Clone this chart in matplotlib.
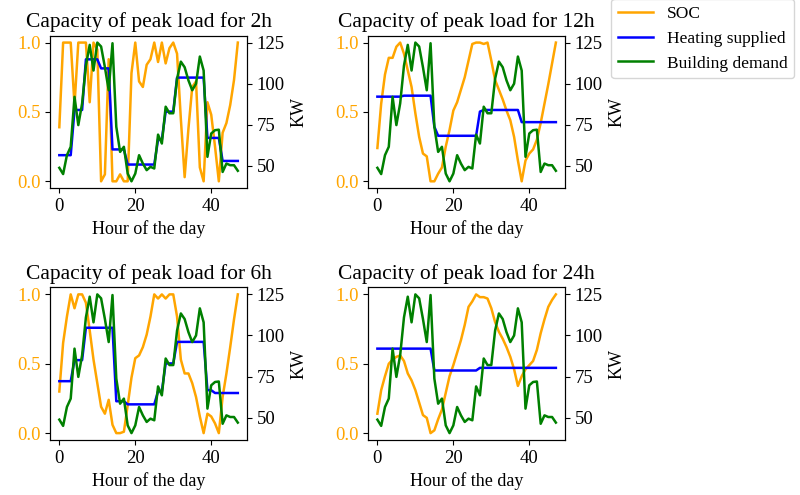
import matplotlib
matplotlib.use("Agg")
import matplotlib.pyplot as plt

plt.rcParams['font.family'] = ['Liberation Serif', 'DejaVu Serif']

hours = list(range(48))

# building demand (KW), same for all cases
demand = [48.8, 45, 56.5, 61.6, 92, 74.8, 88, 111, 123.6, 108,
          125, 122.6, 110, 96, 124.6, 73.8, 58.5, 61.6, 45.3, 40.6,
          45.3, 56.5, 51.4, 47.4, 49.4, 48.4, 69, 63.6, 86, 82,
          82, 103, 113.4, 110, 102, 96, 100, 116.5, 108, 55.5,
          69.7, 71.7, 72, 46.3, 51.4, 50.4, 50.4, 47]

soc_2h = [0.39, 1.0, 1.0, 1.0, 0.55, 1.0, 1.0, 1.0, 0.57, 1.0,
          0.95, 0.0, 0.05, 0.88, 0.0, 0.0, 0.05, 0.0, 0.0, 0.78,
          1.0, 0.72, 0.68, 0.84, 0.88, 1.0, 0.86, 1.0, 0.85, 0.96,
          1.0, 0.92, 0.45, 0.03, 0.38, 0.68, 0.72, 0.1, 0.0, 0.57,
          0.48, 0.25, 0.0, 0.35, 0.42, 0.55, 0.73, 1.0]
heat_2h = [56.5, 56.5, 56.5, 56.5, 84, 84, 84, 114.8, 114.8, 114.8,
           114.8, 109.3, 109.3, 109.3, 60, 60, 60, 60, 50.8, 50.8,
           50.8, 50.8, 50.8, 50.8, 50.8, 50.8, 66, 66, 83, 83,
           83, 103.7, 103.7, 103.7, 103.7, 103.7, 103.7, 103.7, 103.7, 67,
           67, 67, 67, 53, 53, 53, 53, 53]

soc_12h = [0.24, 0.56, 0.77, 0.89, 0.89, 0.97, 1.0, 0.92, 0.8, 0.68,
           0.49, 0.32, 0.2, 0.18, 0.0, 0.0, 0.055, 0.1, 0.25, 0.37,
           0.51, 0.57, 0.66, 0.75, 0.87, 0.99, 1.0, 1.0, 0.99, 1.0,
           0.87, 0.73, 0.66, 0.59, 0.51, 0.44, 0.32, 0.15, 0.0, 0.15,
           0.2, 0.23, 0.3, 0.42, 0.56, 0.7, 0.85, 1.0]
heat_12h = [92.1, 92.1, 92.1, 92.1, 92.1, 92.1, 92.1, 92.7, 92.7, 92.7,
            92.7, 92.7, 92.7, 92.7, 92.7, 73.8, 68.3, 68.3, 68.3, 68.3,
            68.3, 68.3, 68.3, 68.3, 68.3, 68.3, 68.3, 83, 84, 84,
            84, 84, 84, 84, 84, 84, 84, 84, 76.6, 76.6,
            76.6, 76.6, 76.6, 76.6, 76.6, 76.6, 76.6, 76.6]

soc_6h = [0.30, 0.65, 0.84, 1.0, 0.9, 1.0, 1.0, 0.94, 0.74, 0.53,
          0.36, 0.19, 0.14, 0.24, 0.06, 0.0, 0.0, 0.01, 0.2, 0.4,
          0.54, 0.56, 0.62, 0.71, 0.84, 1.0, 0.97, 1.0, 0.97, 1.0,
          1.0, 0.84, 0.53, 0.43, 0.43, 0.36, 0.26, 0.12, 0.0, 0.14,
          0.12, 0.07, 0.0, 0.26, 0.43, 0.62, 0.82, 1.0]
heat_6h = [72.2, 72.2, 72.2, 72.2, 85, 85, 85, 104.7, 104.7, 104.7,
           104.7, 104.7, 104.7, 104.7, 104.7, 60, 60, 60, 58.1, 58.1,
           58.1, 58.1, 58.1, 58.1, 58.1, 58.1, 66, 66, 83, 83,
           83, 96.1, 96.1, 96.1, 96.1, 96.1, 96.1, 96.1, 96.1, 66.7,
           66.7, 65, 65, 65, 65, 65, 65, 65]

soc_24h = [0.14, 0.31, 0.41, 0.5, 0.53, 0.55, 0.56, 0.52, 0.43, 0.38,
           0.31, 0.22, 0.13, 0.11, 0.0, 0.02, 0.1, 0.17, 0.29, 0.41,
           0.49, 0.58, 0.67, 0.78, 0.91, 0.95, 1.0, 0.98, 0.98, 0.97,
           0.9, 0.8, 0.73, 0.68, 0.62, 0.55, 0.46, 0.34, 0.41, 0.46,
           0.49, 0.52, 0.6, 0.72, 0.82, 0.91, 0.96, 1.0]
heat_24h = [92, 92, 92, 92, 92, 92, 92, 92, 92, 92,
            92, 92, 92, 92, 92, 78.7, 78.7, 78.7, 78.7, 78.7,
            78.7, 78.7, 78.7, 78.7, 78.7, 78.7, 78.7, 80.3, 80.3, 80.3,
            80.3, 80.3, 80.3, 80.3, 80.3, 80.3, 80.3, 80.3, 80.3, 80.3,
            80.3, 80.3, 80.3, 80.3, 80.3, 80.3, 80.3, 80.3]

titles = ['Capacity of peak load for 2h', 'Capacity of peak load for 12h',
          'Capacity of peak load for 6h', 'Capacity of peak load for 24h']
soc_list = [soc_2h, soc_12h, soc_6h, soc_24h]
heat_list = [heat_2h, heat_12h, heat_6h, heat_24h]

fig, axes = plt.subplots(2, 2, figsize=(8, 4.95), dpi=100)
plt.subplots_adjust(left=0.063, right=0.706, bottom=0.111, top=0.928,
                    wspace=0.62, hspace=0.65)

for ax, title, soc, heat in zip(axes.flat, titles, soc_list, heat_list):
    l1, = ax.plot(hours, soc, color='orange', linewidth=1.8, label='SOC')
    ax.set_title(title, fontsize=15.5)
    ax.set_xlabel('Hour of the day', fontsize=13)
    ax.set_xticks([0, 20, 40])
    ax.set_yticks([0.0, 0.5, 1.0])
    ax.tick_params(axis='y', labelcolor='orange', labelsize=13.5)
    ax.tick_params(axis='x', labelsize=13.5)

    ax2 = ax.twinx()
    l2, = ax2.plot(hours, heat, color='blue', linewidth=1.8, label='Heating supplied')
    l3, = ax2.plot(hours, demand, color='green', linewidth=1.8, label='Building demand')
    ax2.set_yticks([50, 75, 100, 125])
    ax2.tick_params(axis='y', labelsize=13.5)
    ax2.set_ylabel('KW', fontsize=13)

# legend sits in the top right corner, partly outside the figure
fig.legend([l1, l2, l3], ['SOC', 'Heating supplied', 'Building demand'],
           loc='upper left', bbox_to_anchor=(0.753, 1.02), fontsize=12.5)

plt.savefig('out.png', dpi=100)
